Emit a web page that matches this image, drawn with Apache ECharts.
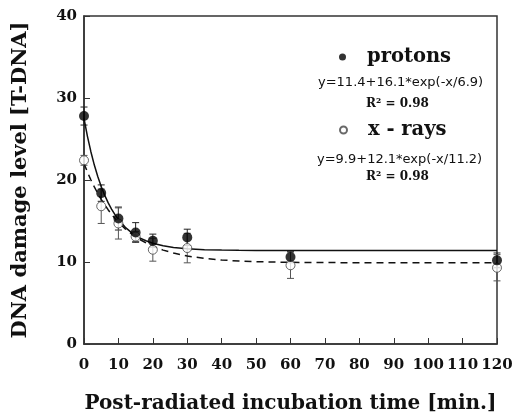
<!DOCTYPE html>
<html>
<head>
<meta charset="utf-8">
<script src="https://cdn.jsdelivr.net/npm/echarts@6/dist/echarts.min.js"></script>
<style>html,body{margin:0;padding:0;background:#fff}#c{width:512px;height:413px}</style>
</head>
<body>
<div id="c"></div>
<script>
// measured points
const times = [0, 5, 10, 15, 20, 30, 60, 120];
const protons = [27.8, 18.4, 15.3, 13.6, 12.6, 13.0, 10.6, 10.2];
const protonsErr = [1.1, 1.0, 1.4, 1.2, 0.8, 1.0, 0.7, 0.9];
const xrays = [22.4, 16.8, 14.7, 13.1, 11.5, 11.7, 9.6, 9.3];
const xraysErr = [0.6, 2.1, 1.9, 0.6, 1.4, 1.8, 1.6, 1.6];
// fitted curves
const fitX = [0,1,2,3,4,5,6,7,8,9,10,12,14,16,18,20,23,26,30,35,40,45,50,60,80,100,120];
const protonsFit = [27.5,25.33,23.45,21.82,20.42,19.20,18.15,17.24,16.45,15.77,15.18,14.23,13.52,12.98,12.59,12.29,11.97,11.77,11.61,11.50,11.45,11.42,11.41,11.40,11.40,11.40,11.40];
const xraysFit = [22.0,20.97,20.02,19.16,18.37,17.64,16.98,16.38,15.82,15.32,14.85,14.04,13.37,12.80,12.33,11.93,11.45,11.09,10.73,10.43,10.24,10.12,10.04,9.96,9.91,9.90,9.90];
const xTicks = [0,10,20,30,40,50,60,70,80,90,100,110,120];
const yTicks = [0,10,20,30,40];

const serif = '"DejaVu Serif", "Liberation Serif", serif';
const sans = '"DejaVu Sans", "Liberation Sans", sans-serif';

function errSeries(vals, errs, color) {
  return {
    type: 'custom',
    silent: true,
    z: 1,
    data: times.map((t, i) => [t, vals[i] - errs[i], vals[i] + errs[i]]),
    renderItem: function (params, api) {
      const lo = api.coord([api.value(0), api.value(1)]);
      const hi = api.coord([api.value(0), api.value(2)]);
      const w = 3.5;
      const st = { stroke: color, lineWidth: 1 };
      return {
        type: 'group',
        children: [
          { type: 'line', shape: { x1: lo[0], y1: lo[1], x2: hi[0], y2: hi[1] }, style: st },
          { type: 'line', shape: { x1: lo[0] - w, y1: lo[1], x2: lo[0] + w, y2: lo[1] }, style: st },
          { type: 'line', shape: { x1: hi[0] - w, y1: hi[1], x2: hi[0] + w, y2: hi[1] }, style: st }
        ]
      };
    }
  };
}

const chart = echarts.init(document.getElementById('c'), null, { renderer: 'canvas' });
chart.setOption({
  animation: false,
  backgroundColor: '#fff',
  grid: { left: 84, right: 15, top: 16, bottom: 69, show: true, borderColor: '#333', borderWidth: 1.5,
    containLabel: false, outerBoundsMode: 'none' },
  xAxis: {
    type: 'value', min: 0, max: 120, interval: 10,
    axisLine: { lineStyle: { color: '#333', width: 1.5 } },
    axisTick: { inside: true, length: 6, lineStyle: { color: '#333' } },
    splitLine: { show: false },
    axisLabel: { margin: 14, color: '#111', fontFamily: serif, fontWeight: 'bold', fontSize: 15,
      formatter: v => xTicks.includes(v) ? String(v) : '' },
    name: 'Post-radiated incubation time [min.]',
    nameLocation: 'middle', nameGap: 50,
    nameTextStyle: { fontFamily: serif, fontWeight: 'bold', fontSize: 20, color: '#111' }
  },
  yAxis: {
    type: 'value', min: 0, max: 40, interval: 10,
    axisLine: { show: true, lineStyle: { color: '#333', width: 1.5 } },
    axisTick: { show: true, inside: true, length: 6, lineStyle: { color: '#333' } },
    splitLine: { show: false },
    axisLabel: { margin: 7, color: '#111', fontFamily: serif, fontWeight: 'bold', fontSize: 15,
      formatter: v => yTicks.includes(v) ? String(v) : '' },
    name: 'DNA damage level [T-DNA]',
    nameLocation: 'middle', nameGap: 53, nameRotate: 90,
    nameTextStyle: { fontFamily: serif, fontWeight: 'bold', fontSize: 21, color: '#111' }
  },
  legend: [
    { data: ['protons'], left: 339, top: 47, orient: 'vertical', itemWidth: 7, itemHeight: 7, padding: 0,
      textStyle: { fontFamily: serif, fontWeight: 'bold', fontSize: 19.5, color: '#111', padding: [0, 0, 0, 16] } },
    { data: ['x - rays'], left: 339, top: 120, orient: 'vertical', itemWidth: 7, itemHeight: 7, padding: 0,
      textStyle: { fontFamily: serif, fontWeight: 'bold', fontSize: 19.5, color: '#111', padding: [0, 0, 0, 16] } }
  ],
  graphic: [
    { type: 'text', left: 318, top: 76, style: { text: 'y=11.4+16.1*exp(-x/6.9)', font: '13px ' + sans, fill: '#111' } },
    { type: 'text', left: 366, top: 98, style: { text: 'R² = 0.98', font: 'bold 12px ' + serif, fill: '#111' } },
    { type: 'text', left: 317, top: 153, style: { text: 'y=9.9+12.1*exp(-x/11.2)', font: '13px ' + sans, fill: '#111' } },
    { type: 'text', left: 366, top: 171, style: { text: 'R² = 0.98', font: 'bold 12px ' + serif, fill: '#111' } }
  ],
  series: [
    { name: 'protons fit', type: 'line', data: fitX.map((x, i) => [x, protonsFit[i]]), showSymbol: false, silent: true,
      lineStyle: { color: '#111', width: 1.5 }, z: 2 },
    { name: 'x-rays fit', type: 'line', data: fitX.map((x, i) => [x, xraysFit[i]]), showSymbol: false, silent: true,
      lineStyle: { color: '#111', width: 1.5, type: [7, 5] }, z: 2 },
    errSeries(protons, protonsErr, '#222'),
    errSeries(xrays, xraysErr, '#555'),
    { name: 'x - rays', type: 'scatter', data: times.map((t, i) => [t, xrays[i]]), symbol: 'circle', symbolSize: 9,
      itemStyle: { color: '#fff', borderColor: '#444', borderWidth: 1 }, z: 4 },
    { name: 'protons', type: 'scatter', data: times.map((t, i) => [t, protons[i]]), symbol: 'circle', symbolSize: 10,
      itemStyle: { color: '#000' }, z: 5 }
  ]
});
</script>
</body>
</html>
